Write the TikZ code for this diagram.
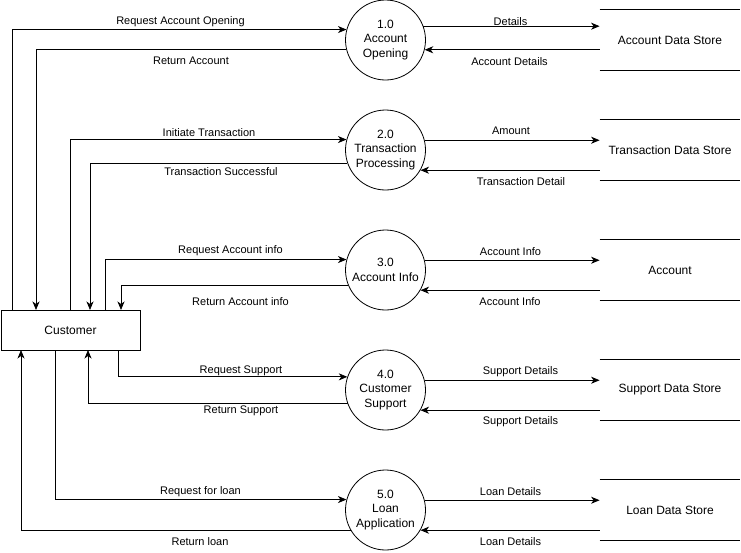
\documentclass[tikz,border=0pt]{standalone}
\usepackage{fontspec}
\setmainfont{Liberation Sans}
\usetikzlibrary{arrows.meta}
\begin{document}
\begin{tikzpicture}[x=1pt,y=-1pt,
  every path/.style={line width=0.8pt},
  proc/.style={draw,circle,minimum size=80pt,inner sep=0pt,align=center,font=\fontsize{12}{14.5}\selectfont},
  entity/.style={draw,rectangle,minimum width=139pt,minimum height=40pt,inner sep=0pt,font=\fontsize{12}{14.5}\selectfont},
  store/.style={rectangle,minimum width=140pt,minimum height=60pt,inner sep=0pt,font=\fontsize{12}{14.5}\selectfont},
  lbl/.style={inner sep=0pt,yshift=-1.2pt,font=\fontsize{11}{13}\selectfont},
  flow/.style={-{Stealth[length=8.5pt,width=7pt,inset=2.5pt]}}
]
\useasboundingbox (0,0) rectangle (741,552);

% processes
\node[proc] (p1) at (385.5,40) {1.0\\Account\\Opening};
\node[proc] (p2) at (385.5,150) {2.0\\Transaction\\Processing};
\node[proc] (p3) at (385.5,270) {3.0\\Account Info};
\node[proc] (p4) at (385.5,390) {4.0\\Customer\\Support};
\node[proc] (p5) at (385.5,510) {5.0\\Loan\\Application};

% entity
\node[entity] (cust) at (70.5,330) {Customer};

% data stores
\node[store] (d1) at (670,40) {Account Data Store};
\node[store] (d2) at (670,150) {Transaction Data Store};
\node[store] (d3) at (670,270) {Account};
\node[store] (d4) at (670,390) {Support Data Store};
\node[store] (d5) at (670,510) {Loan Data Store};
\foreach \d in {d1,d2,d3,d4,d5}{
  \draw (\d.north west) -- (\d.north east);
  \draw (\d.south west) -- (\d.south east);
}

% customer attachment points
\coordinate (c1) at (12,310);
\coordinate (c2) at (36,310);
\coordinate (c3) at (70,310);
\coordinate (c4) at (90,310);
\coordinate (c5) at (105,310);
\coordinate (c6) at (121,310);
\coordinate (c7) at (118,350);
\coordinate (c8) at (88,350);
\coordinate (c9) at (55,350);
\coordinate (c10) at (21,350);

% customer <-> processes
\draw[flow] (c1) |- (p1.165.5);
\draw[flow] (p1.194.5) -| (c2);
\draw[flow] (c3) |- (p2.165.5);
\draw[flow] (p2.199) -| (c4);
\draw[flow] (c5) |- (p3.165.5);
\draw[flow] (p3.203.6) -| (c6);
\draw[flow] (c7) |- (p4.161);
\draw[flow] (p4.200.5) -| (c8);
\draw[flow] (c9) |- (p5.165.5);
\draw[flow] (p5.210) -| (c10);

% processes <-> data stores
\draw[flow] (p1.20.5) -- (p1.20.5 -| d1.west);
\draw[flow] (p1.-14.5 -| d1.west) -- (p1.-14.5);
\draw[flow] (p2.14.5) -- (p2.14.5 -| d2.west);
\draw[flow] (p2.-30 -| d2.west) -- (p2.-30);
\draw[flow] (p3.14.5) -- (p3.14.5 -| d3.west);
\draw[flow] (p3.-30 -| d3.west) -- (p3.-30);
\draw[flow] (p4.14.5) -- (p4.14.5 -| d4.west);
\draw[flow] (p4.-30 -| d4.west) -- (p4.-30);
\draw[flow] (p5.14.5) -- (p5.14.5 -| d5.west);
\draw[flow] (p5.-30 -| d5.west) -- (p5.-30);

% left labels
\node[lbl] (l1) at (180.5,20) {Request Account Opening};
\node[lbl] (l2) at (191,60) {Return Account};
\node[lbl] (l3) at (209,131) {Initiate Transaction};
\node[lbl] (l4) at (221,170) {Transaction Successful};
\node[lbl] (l5) at (230.5,249) {Request Account info};
\node[lbl] (l6) at (240.5,300) {Return Account info};
\node[lbl] (l7) at (241,370) {Request Support};
\node[lbl] (l8) at (241,410) {Return Support};
\node[lbl] (l9) at (200.5,490) {Request for loan};
\node[lbl] (l10) at (200,540) {Return loan};

% right labels
\node[lbl] (r1) at (510.5,20) {Details};
\node[lbl] (r2) at (509.5,60) {Account Details};
\node[lbl] (r3) at (511,130) {Amount};
\node[lbl] (r4) at (521,180) {Transaction Detail};
\node[lbl] (r5) at (510.5,250) {Account Info};
\node[lbl] (r6) at (510,300) {Account Info};
\node[lbl] (r7) at (520.5,370) {Support Details};
\node[lbl] (r8) at (520.5,420) {Support Details};
\node[lbl] (r9) at (510.5,490) {Loan Details};
\node[lbl] (r10) at (510.5,540) {Loan Details};
\end{tikzpicture}
\end{document}
